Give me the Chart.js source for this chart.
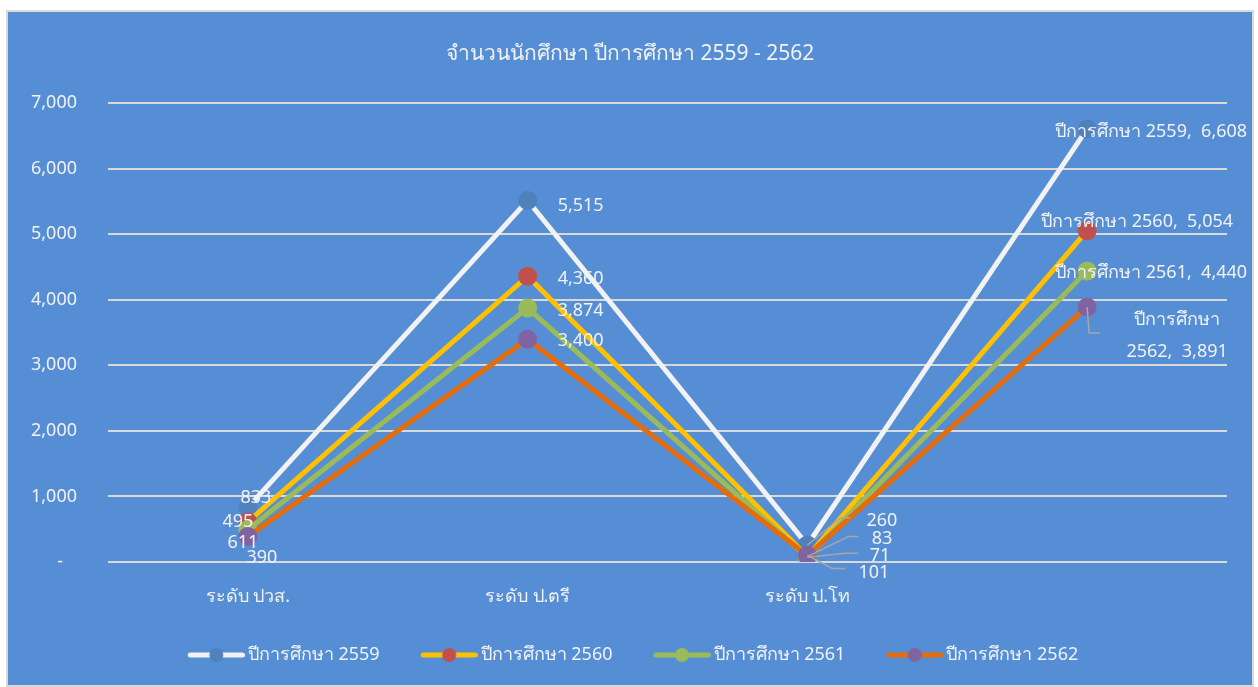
<!DOCTYPE html>
<html>
<head>
<meta charset="utf-8">
<script src="https://cdn.jsdelivr.net/npm/chart.js@4/dist/chart.umd.min.js"></script>
<style>
html, body { margin: 0; padding: 0; background: #fff; }
#box { position: absolute; left: 6px; top: 10px; width: 1248px; height: 677px; box-sizing: border-box; border: 2px solid #d9d9d9; background: #558ed5; }
canvas { display: block; }
</style>
</head>
<body>
<div id="box"><canvas id="chart" width="1244" height="673"></canvas></div>
<script>
// data
var categories = ['ระดับ ปวส.', 'ระดับ ป.ตรี', 'ระดับ ป.โท', ''];
var seriesNames = ['ปีการศึกษา 2559', 'ปีการศึกษา 2560', 'ปีการศึกษา 2561', 'ปีการศึกษา 2562'];
var y2559 = [833, 5515, 260, 6608];
var y2560 = [611, 4360, 83, 5054];
var y2561 = [495, 3874, 71, 4440];
var y2562 = [390, 3400, 101, 3891];
var yTicks = [0, 1000, 2000, 3000, 4000, 5000, 6000, 7000];

var lineColors = ['#f2f2f2', '#ffc000', '#9bbb59', '#e46c0a'];
var pointColors = ['#4f81bd', '#c0504d', '#9bbb59', '#8064a2'];
var font = "'Noto Sans', 'DejaVu Sans', sans-serif";
var txt = '#f2f2f2';

// label placement, offsets from the point: [dx, dy, align]
var labelOffsets = [
    [[8, -10, 'center'], [30, 5, 'left'], [90, -24, 'right'], [160, 3, 'right']],
    [[-5, 21, 'center'], [30, 3, 'left'], [85, -18, 'right'], [146, -9, 'right']],
    [[-10, -8, 'center'], [30, 3, 'left'], [83, -1, 'right'], [160, 2, 'right']],
    [[14, 21, 'center'], [30, 2, 'left'], [82, 17, 'right'], [90, 13, 'split']]
];
// leader lines: [elbow dx, elbow dy, end dx]
var leaders = [
    [null, null, [33, -27, 43], null],
    [null, null, [41, -20, 51], null],
    [null, null, [38, -4, 51], null],
    [null, null, [25, 13, 38], [2, 26, 13]]
];

function fmt(v) { return v.toLocaleString('en-US'); }

// legend swatch: line with a dot, sits right next to the text
var boxW = 57;
function legendIcon(i) {
    var c = document.createElement('canvas');
    c.width = 69; c.height = 16;
    var g = c.getContext('2d');
    g.strokeStyle = lineColors[i];
    g.lineWidth = 5;
    g.lineCap = 'round';
    g.beginPath(); g.moveTo(14.5, 8); g.lineTo(66.5, 8); g.stroke();
    g.fillStyle = pointColors[i];
    g.beginPath(); g.arc(40.5, 8, 7, 0, Math.PI * 2); g.fill();
    return c;
}

var pointLabels = {
    id: 'pointLabels',
    afterDatasetsDraw: function(chart) {
        var ctx = chart.ctx;
        ctx.save();
        ctx.font = '18px ' + font;
        ctx.fillStyle = txt;
        ctx.textBaseline = 'middle';
        ctx.strokeStyle = '#a6a6a6';
        ctx.lineWidth = 1.5;
        chart.data.datasets.forEach(function(ds, i) {
            var meta = chart.getDatasetMeta(i);
            meta.data.forEach(function(pt, j) {
                var o = labelOffsets[i][j];
                var l = leaders[i][j];
                if (l) {
                    ctx.beginPath();
                    ctx.moveTo(pt.x, pt.y);
                    ctx.lineTo(pt.x + l[0], pt.y + l[1]);
                    ctx.lineTo(pt.x + l[2], pt.y + l[1]);
                    ctx.stroke();
                }
                var v = ds.data[j];
                var s = j === 3 ? ds.label + ',  ' + fmt(v) : fmt(v);
                if (o[2] === 'split') {
                    ctx.textAlign = 'center';
                    ctx.fillText(ds.label.split(' ')[0], pt.x + o[0], pt.y + o[1]);
                    ctx.fillText(ds.label.split(' ')[1] + ',  ' + fmt(v), pt.x + o[0], pt.y + o[1] + 32);
                } else {
                    ctx.textAlign = o[2];
                    ctx.fillText(s, pt.x + o[0], pt.y + o[1]);
                }
            });
        });
        ctx.restore();
    }
};

var series = [y2559, y2560, y2561, y2562];
var datasets = series.map(function(d, i) {
    return {
        label: seriesNames[i],
        data: d,
        borderColor: lineColors[i],
        backgroundColor: pointColors[i],
        pointBackgroundColor: pointColors[i],
        pointBorderColor: pointColors[i],
        borderWidth: 5,
        pointRadius: 7,
        pointHoverRadius: 7,
        pointStyle: 'circle',
        order: 3 - i
    };
});

new Chart(document.getElementById('chart'), {
    type: 'line',
    data: { labels: categories, datasets: datasets },
    plugins: [pointLabels],
    options: {
        responsive: false,
        animation: false,
        layout: { padding: { left: 0, right: 0, top: 0, bottom: 11 } },
        plugins: {
            title: {
                display: true,
                text: 'จำนวนนักศึกษา ปีการศึกษา 2559 - 2562',
                color: txt,
                font: { family: font, size: 21, weight: 'normal' },
                padding: { top: 29, bottom: 37 }
            },
            legend: {
                position: 'bottom',
                labels: {
                    color: txt,
                    font: { family: font, size: 18 },
                    usePointStyle: true,
                    pointStyleWidth: boxW,
                    padding: 35,
                    sort: function(a, b) { return a.datasetIndex - b.datasetIndex; },
                    generateLabels: function(chart) {
                        return chart.data.datasets.map(function(ds, i) {
                            return { text: ds.label, datasetIndex: i, pointStyle: legendIcon(i), fontColor: txt, lineWidth: 0, strokeStyle: 'transparent', fillStyle: 'transparent' };
                        });
                    }
                }
            },
            tooltip: { enabled: false }
        },
        scales: {
            x: {
                offset: true,
                afterFit: function(scale) { scale.height = 49; },
                grid: { display: false, drawTicks: false },
                border: { display: false },
                ticks: { color: txt, font: { family: font, size: 18 }, padding: 24 }
            },
            y: {
                min: 0,
                max: 7000,
                afterFit: function(scale) { scale.width = 100; },
                afterBuildTicks: function(scale) { scale.ticks = yTicks.map(function(v) { return { value: v }; }); },
                grid: { color: '#d9d9d9', lineWidth: 2, drawTicks: false },
                border: { display: false },
                ticks: {
                    color: txt,
                    font: { family: font, size: 18 },
                    padding: 31,
                    callback: function(v) { return v === 0 ? '-   ' : fmt(v); }
                }
            },
            // empty right-hand margin so the legend stays centred
            yRight: {
                position: 'right',
                min: 0,
                max: 7000,
                afterFit: function(scale) { scale.width = 25; },
                grid: { display: false, drawTicks: false },
                border: { display: false },
                ticks: { display: false }
            }
        }
    }
});
</script>
</body>
</html>
